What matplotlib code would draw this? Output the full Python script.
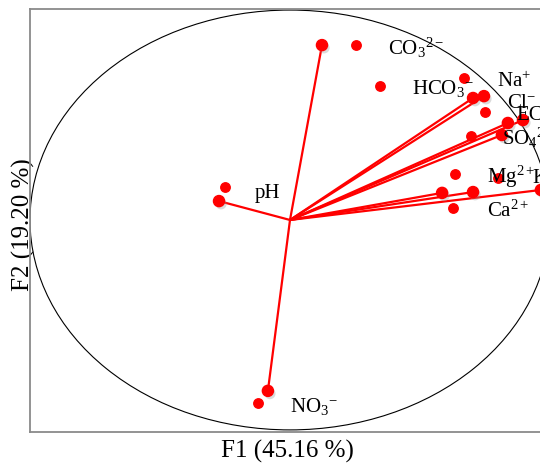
import matplotlib.pyplot as plt
import matplotlib.patheffects as pe
from matplotlib.patches import Circle

plt.rcParams['font.family'] = ['Liberation Serif', 'DejaVu Serif']
plt.rcParams['mathtext.fontset'] = 'custom'
plt.rcParams['mathtext.rm'] = 'Liberation Serif'
plt.rcParams['mathtext.it'] = 'Liberation Serif:italic'

# variable loadings (F1, F2) - drawn as vectors from the origin
var_names = ['CO3', 'pH', 'NO3', 'HCO3', 'Na', 'EC', 'Cl', 'SO4', 'K', 'Mg', 'Ca']
f1_vec = [0.123, -0.273, -0.085, 0.704, 0.746, 0.896, 0.838, 0.815, 0.965, 0.704, 0.585]
f2_vec = [0.833, 0.090, -0.814, 0.581, 0.590, 0.476, 0.462, 0.405, 0.143, 0.133, 0.129]

# second set of points (no vectors)
f1_pts = [0.254, 0.346, 0.669, 0.750, 0.696, -0.250, -0.123, 0.635, 0.800, 0.627]
f2_pts = [0.833, 0.638, 0.676, 0.514, 0.400, 0.157, -0.871, 0.219, 0.200, 0.057]

# label text and where it sits (data coords, left/baseline)
labels = [r'CO$_3$$^{2-}$', r'HCO$_3$$^{-}$', r'Na$^{+}$', r'Cl$^{-}$', 'EC',
          r'SO$_4$$^{2-}$', r'Mg$^{2+}$', 'K', r'Ca$^{2+}$', 'pH', r'NO$_3$$^{-}$']
label_pos = [(0.377, 0.786), (0.469, 0.600), (0.796, 0.633), (0.835, 0.533),
             (0.869, 0.476), (0.815, 0.357), (0.758, 0.176), (0.931, 0.176),
             (0.758, 0.014), (-0.135, 0.105), (0.000, -0.914)]

RED = '#ff0000'

fig = plt.figure(figsize=(5.4, 4.68), dpi=100)
ax = fig.add_axes([30 / 540, 36 / 468, 520 / 540, 423 / 468])
ax.set_xlim(-1.0, 1.0)
ax.set_ylim(-1.01, 1.005)
ax.set_xticks([])
ax.set_yticks([])
for s in ax.spines.values():
    s.set_color('#8a8a8a')
    s.set_linewidth(1.3)

ax.add_patch(Circle((0, 0), 1.0, fill=False, color='black', lw=0.8))

# vectors
for x, y in zip(f1_vec, f2_vec):
    ax.plot([0, x], [0, y], color=RED, lw=1.6, solid_capstyle='butt')

shadow = [pe.SimplePatchShadow(offset=(1.5, -2), shadow_rgbFace='#999999', alpha=0.35), pe.Normal()]
ax.plot(f1_vec, f2_vec, 'o', color=RED, ms=8, mec=RED, path_effects=shadow)
ax.plot(f1_pts, f2_pts, 'o', color=RED, ms=6.8, mec=RED)

for txt, (lx, ly) in zip(labels, label_pos):
    ax.text(lx, ly, txt, fontsize=15, ha='left', va='baseline', clip_on=False)

ax.set_xlabel('F1 (45.16 %)', fontsize=18, va='center')
ax.xaxis.set_label_coords(0.496, -0.047)
ax.set_ylabel('F2 (19.20 %)', fontsize=18, va='center')
ax.yaxis.set_label_coords(-0.0135, 0.49)

fig.savefig('out.png', dpi=100)
